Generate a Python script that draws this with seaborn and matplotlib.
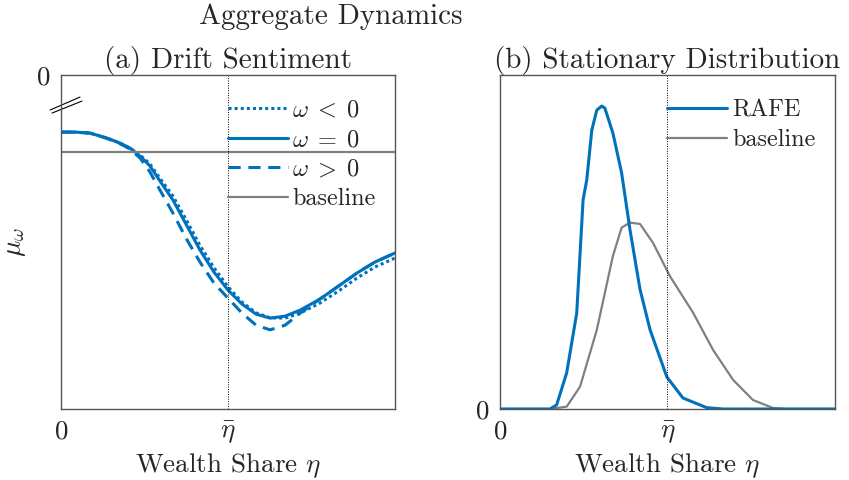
import numpy as np
import pandas as pd
import matplotlib
matplotlib.use("Agg")
import matplotlib.pyplot as plt
import seaborn as sns
from matplotlib.lines import Line2D

# ---------------- data ----------------
# Panel (a): drift sentiment mu_omega vs wealth share eta (eta_bar = 0.5)
eta_a = [0.0, 0.042, 0.087, 0.138, 0.177, 0.207, 0.237, 0.266, 0.296, 0.335, 0.374,
         0.416, 0.458, 0.5, 0.542, 0.584, 0.626, 0.671, 0.716, 0.775, 0.835, 0.886, 0.940, 1.0]
mu_eq0 = [-0.171, -0.171, -0.174, -0.189, -0.204, -0.219, -0.243, -0.272, -0.317, -0.374, -0.446,
          -0.524, -0.590, -0.644, -0.686, -0.716, -0.728, -0.722, -0.704, -0.671, -0.629, -0.593, -0.560, -0.533]
mu_lt0 = [-0.171, -0.171, -0.174, -0.189, -0.204, -0.219, -0.240, -0.266, -0.309, -0.362, -0.432,
          -0.510, -0.577, -0.634, -0.680, -0.712, -0.727, -0.728, -0.713, -0.683, -0.644, -0.608, -0.575, -0.548]
mu_gt0 = [-0.171, -0.171, -0.174, -0.190, -0.206, -0.222, -0.249, -0.290, -0.344, -0.413, -0.488,
          -0.560, -0.623, -0.668, -0.713, -0.749, -0.763, -0.749, -0.713, -0.671, -0.629, -0.593, -0.560, -0.533]
mu_baseline = -0.23

# Panel (b): stationary distribution
eta_rafe = [0.0, 0.149, 0.169, 0.199, 0.229, 0.248, 0.259, 0.274, 0.289, 0.304, 0.313, 0.337,
            0.363, 0.388, 0.418, 0.448, 0.498, 0.546, 0.617, 0.666, 1.0]
dens_rafe = [0.0, 0.0, 0.012, 0.108, 0.287, 0.626, 0.686, 0.835, 0.895, 0.907, 0.901, 0.826,
             0.707, 0.537, 0.358, 0.237, 0.096, 0.033, 0.004, 0.0, 0.0]
eta_base = [0.0, 0.149, 0.199, 0.239, 0.289, 0.337, 0.363, 0.388, 0.418, 0.457, 0.507,
            0.576, 0.636, 0.696, 0.755, 0.815, 0.857, 1.0]
dens_base = [0.0, 0.0, 0.007, 0.067, 0.237, 0.458, 0.543, 0.558, 0.554, 0.497, 0.398,
             0.289, 0.177, 0.087, 0.027, 0.003, 0.0, 0.0]

eta_bar = 0.5
xticks = [0, eta_bar]
xticklabels = ["$0$", r"$\bar{\eta}$"]

# ---------------- style ----------------
sns.set_theme(style="white")
plt.rcParams["font.family"] = ["serif"]
plt.rcParams["font.serif"] = ["cmr10", "DejaVu Serif"]
plt.rcParams["mathtext.fontset"] = "cm"
plt.rcParams["axes.unicode_minus"] = False
plt.rcParams["axes.formatter.use_mathtext"] = True

BLUE = "#0072BD"
GRAY = "#808080"
EDGE = "#555555"
FS_T = 21     # titles
FS_L = 19.5   # axis labels / ticks
FS_G = 17.5   # legend

fig = plt.figure(figsize=(8.49, 4.8), dpi=100)
axA = fig.add_axes([61/849, 71/480, 334/849, 334/480])
axB = fig.add_axes([500/849, 71/480, 335/849, 334/480])

dfa = pd.DataFrame({"eta": eta_a, "lt": mu_lt0, "eq": mu_eq0, "gt": mu_gt0})
dotted = (0, (1, 1))
dashed = (0, (4, 2.5))
sns.lineplot(data=dfa, x="eta", y="lt", ax=axA, color=BLUE, lw=2.2, linestyle=dotted)
sns.lineplot(data=dfa, x="eta", y="eq", ax=axA, color=BLUE, lw=2.2)
sns.lineplot(data=dfa, x="eta", y="gt", ax=axA, color=BLUE, lw=2.2, linestyle=dashed)
axA.axhline(mu_baseline, color=GRAY, lw=1.6)

dfb1 = pd.DataFrame({"eta": eta_rafe, "d": dens_rafe})
dfb2 = pd.DataFrame({"eta": eta_base, "d": dens_base})
sns.lineplot(data=dfb2, x="eta", y="d", ax=axB, color=GRAY, lw=1.6)
sns.lineplot(data=dfb1, x="eta", y="d", ax=axB, color=BLUE, lw=2.2)

for ax in (axA, axB):
    ax.set_xlim(0, 1)
    ax.axvline(eta_bar, color="black", lw=0.7, linestyle=(0, (1, 1.5)))
    ax.set_xticks(xticks)
    ax.set_xticklabels(xticklabels)
    ax.tick_params(axis="both", direction="in", length=5, width=0.8, color=EDGE,
                   labelsize=FS_L, pad=8, top=False, right=False)
    for s in ax.spines.values():
        s.set_color(EDGE)
        s.set_linewidth(1.0)
    ax.set_xlabel(r"Wealth Share $\eta$", fontsize=FS_L, labelpad=4)

axA.set_ylim(-1, 0)
axA.set_yticks([0])
axA.set_yticklabels(["$0$"])
axA.set_ylabel(r"$\mu_\omega$", fontsize=FS_L)
axA.yaxis.set_label_coords(-0.1, 0.5)
axA.set_title("(a) Drift Sentiment", fontsize=FS_T, pad=5)

axB.set_ylim(0, 1)
axB.set_yticks([0])
axB.set_yticklabels(["$0$"])
axB.set_ylabel("")
axB.set_title("(b) Stationary Distribution", fontsize=FS_T, pad=5)

# axis break marks on the left panel (near the top of the y axis)
axA.plot([-0.033, 0.057], [0.895, 0.934], transform=axA.transAxes,
         color="black", lw=0.8, clip_on=False)
axA.plot([-0.027, 0.063], [0.886, 0.922], transform=axA.transAxes,
         color="black", lw=0.8, clip_on=False)

# legends
hA = [Line2D([], [], color=BLUE, lw=2.2, linestyle=dotted),
      Line2D([], [], color=BLUE, lw=2.2),
      Line2D([], [], color=BLUE, lw=2.2, linestyle=dashed),
      Line2D([], [], color=GRAY, lw=1.6)]
lA = [r"$\omega\;<\;0$", r"$\omega\;=\;0$", r"$\omega\;>\;0$", "baseline"]
axA.legend(hA, lA, loc="upper left", bbox_to_anchor=(0.5, 0.926), frameon=False,
           fontsize=FS_G, handlelength=2.45, handletextpad=0.2, labelspacing=0.3,
           borderpad=0, borderaxespad=0)
hB = [Line2D([], [], color=BLUE, lw=2.2), Line2D([], [], color=GRAY, lw=1.6)]
axB.legend(hB, ["RAFE", "baseline"], loc="upper left", bbox_to_anchor=(0.5, 0.926),
           frameon=False, fontsize=FS_G, handlelength=2.45, handletextpad=0.2,
           labelspacing=0.3, borderpad=0, borderaxespad=0)

fig.text(331/849, 1 - 3/480, "Aggregate Dynamics", ha="center", va="top", fontsize=FS_T)

fig.savefig("out.png", dpi=100)
